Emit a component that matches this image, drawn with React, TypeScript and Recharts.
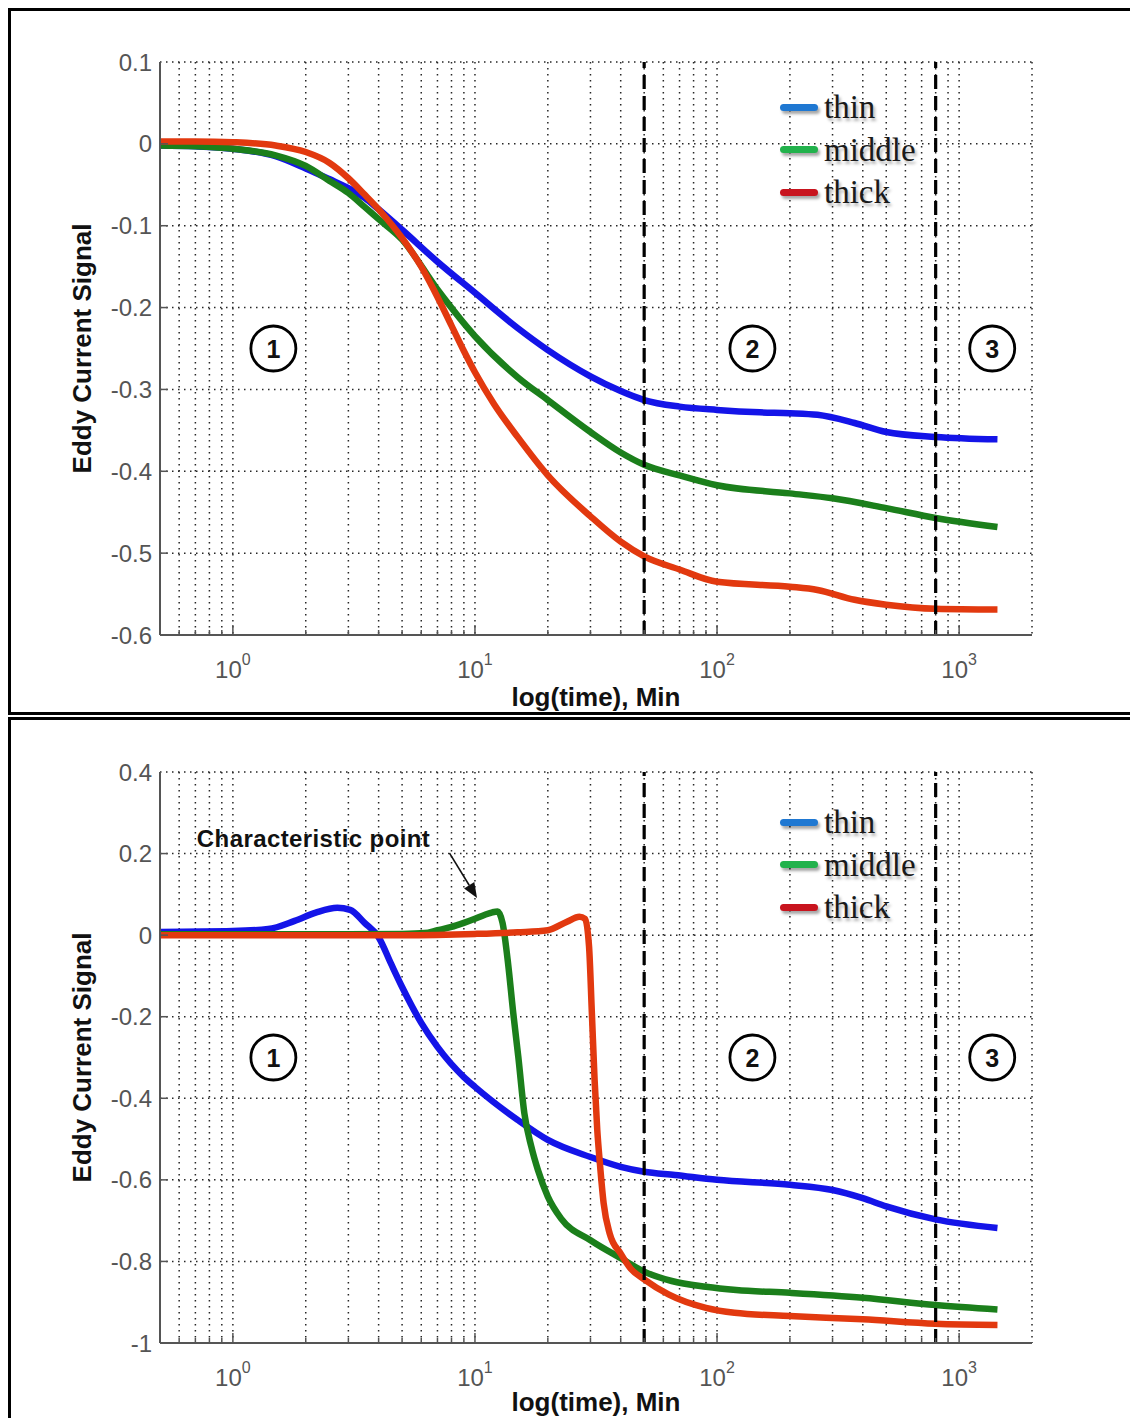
import React from 'react';
import {
  LineChart,
  Line,
  XAxis,
  YAxis,
  CartesianGrid,
  ReferenceLine,
  ReferenceDot,
  Legend,
} from 'recharts';

// ---------- shared time axis (minutes, log scale) ----------
const timeDomain: [number, number] = [0.5, 2000];
const decadeTicks = [1, 10, 100, 1000];
const decadeExponents = ['0', '1', '2', '3'];
const gridTicks = [
  0.5, 0.6, 0.7, 0.8, 0.9,
  1, 2, 3, 4, 5, 6, 7, 8, 9,
  10, 20, 30, 40, 50, 60, 70, 80, 90,
  100, 200, 300, 400, 500, 600, 700, 800, 900,
  1000, 2000,
];
const stageBoundaries = [50, 800];
const stageNames = ['1', '2', '3'];
const stageTimes = [1.47, 140, 1370];

const seriesNames = ['thin', 'middle', 'thick'];
const seriesColors = ['#1414e8', '#1b7f1b', '#e2390f'];
const keyColors = ['#1f78d2', '#22b24c', '#c8141e'];

// ---------- glass-based coatings ----------
const glassYTicks = [-0.6, -0.5, -0.4, -0.3, -0.2, -0.1, 0, 0.1];

const glassThinT = [0.5, 0.7, 1, 1.5, 2, 2.5, 3, 3.5, 4, 5, 7, 10, 15, 20, 30, 40, 50, 70, 100, 150, 200, 260, 370, 500, 800, 1440];
const glassThinV = [-0.002, -0.003, -0.006, -0.015, -0.03, -0.043, -0.054, -0.066, -0.08, -0.105, -0.144, -0.182, -0.225, -0.252, -0.284, -0.302, -0.313, -0.321, -0.325, -0.328, -0.329, -0.331, -0.341, -0.352, -0.358, -0.361];

const glassMiddleT = [0.5, 0.7, 1, 1.5, 2, 2.5, 3, 3.5, 4, 5, 7, 10, 15, 20, 30, 40, 50, 70, 100, 200, 300, 500, 800, 1440];
const glassMiddleV = [-0.002, -0.003, -0.006, -0.014, -0.027, -0.045, -0.06, -0.077, -0.092, -0.117, -0.178, -0.235, -0.285, -0.313, -0.352, -0.377, -0.392, -0.405, -0.417, -0.427, -0.433, -0.445, -0.457, -0.468];

const glassThickT = [0.5, 0.7, 1, 1.5, 2, 2.5, 3, 3.5, 4, 5, 6, 7, 8, 9, 10, 12, 15, 20, 30, 40, 50, 70, 100, 200, 260, 370, 500, 800, 1440];
const glassThickV = [0.003, 0.003, 0.002, -0.002, -0.01, -0.023, -0.042, -0.062, -0.08, -0.115, -0.15, -0.187, -0.222, -0.253, -0.279, -0.318, -0.358, -0.405, -0.455, -0.486, -0.504, -0.52, -0.535, -0.541, -0.545, -0.557, -0.563, -0.568, -0.569];

// ---------- copper-based coatings ----------
const copperYTicks = [-1, -0.8, -0.6, -0.4, -0.2, 0, 0.2, 0.4];

const copperThinT = [0.5, 1, 1.4, 1.8, 2.2, 2.7, 3.05, 3.5, 4, 4.5, 5, 6, 7, 9, 10, 15, 20, 30, 40, 50, 67, 100, 200, 300, 400, 500, 800, 1440];
const copperThinV = [0.008, 0.01, 0.015, 0.035, 0.055, 0.067, 0.062, 0.03, -0.005, -0.07, -0.127, -0.215, -0.274, -0.348, -0.372, -0.453, -0.502, -0.544, -0.568, -0.58, -0.588, -0.6, -0.612, -0.625, -0.645, -0.665, -0.697, -0.718];

const copperMiddleT = [0.5, 1, 3, 5, 6.2, 7, 8, 9, 10, 11, 11.8, 12.4, 13, 13.7, 14.4, 15.1, 16, 17.1, 18.2, 20, 22.7, 30, 40, 50, 65, 90, 120, 200, 400, 800, 1440];
const copperMiddleV = [0.002, 0.002, 0.002, 0.003, 0.005, 0.012, 0.02, 0.03, 0.04, 0.05, 0.056, 0.058, 0.03, -0.069, -0.192, -0.298, -0.437, -0.519, -0.576, -0.641, -0.695, -0.748, -0.792, -0.825, -0.848, -0.862, -0.87, -0.877, -0.889, -0.907, -0.918];

const copperThickT = [0.5, 1, 5, 10, 15, 20, 24, 27, 28.5, 29.6, 30.4, 31.2, 32, 32.8, 34, 36, 40, 44, 50, 63, 90, 118, 200, 400, 800, 1440];
const copperThickV = [0, 0, 0, 0.003, 0.007, 0.012, 0.033, 0.045, 0.04, -0.028, -0.19, -0.354, -0.477, -0.558, -0.657, -0.731, -0.781, -0.818, -0.844, -0.881, -0.914, -0.926, -0.934, -0.942, -0.953, -0.956];

// callout on the copper panel
const calloutText = 'Characteristic point';
const calloutAt = { t: 0.71, v: 0.238 };
const calloutArrow = [
  { t: 7.85, v: 0.201 },
  { t: 10.2, v: 0.091 },
];

type Pt = { t: number; v: number };
const toPoints = (t: number[], v: number[]): Pt[] => t.map((x, i) => ({ t: x, v: v[i] }));

type Series = { name: string; color: string; key: string; data: Pt[] };
const makeSeries = (pairs: [number[], number[]][]): Series[] =>
  pairs.map(([t, v], i) => ({
    name: seriesNames[i],
    color: seriesColors[i],
    key: keyColors[i],
    data: toPoints(t, v),
  }));

const glassSeries = makeSeries([
  [glassThinT, glassThinV],
  [glassMiddleT, glassMiddleV],
  [glassThickT, glassThickV],
]);
const copperSeries = makeSeries([
  [copperThinT, copperThinV],
  [copperMiddleT, copperMiddleV],
  [copperThickT, copperThickV],
]);

// ---------- styling ----------
const SANS = '"Liberation Sans", Arial, sans-serif';
const SERIF = '"Liberation Serif", "Times New Roman", serif';
const AXIS_COLOR = '#555';
const TICK_TEXT = '#555';
const PLOT_LEFT = 160;
const PLOT_RIGHT = 1032;
const CHART_W = 1130;
const PLOT_CX = (PLOT_LEFT + PLOT_RIGHT) / 2;

const isEdge = (v: number) => v === timeDomain[0] || v === timeDomain[1];

const BottomTick = (p: any) => {
  const { x, y, payload } = p;
  const v = payload.value as number;
  const idx = decadeTicks.indexOf(v);
  const len = idx >= 0 ? 10 : 5;
  return (
    <g>
      {!isEdge(v) && <line x1={x} x2={x} y1={y} y2={y - len} stroke={AXIS_COLOR} strokeWidth={1.5} />}
      {idx >= 0 && (
        <text x={x} y={y + 43} textAnchor="middle" fill={TICK_TEXT} fontFamily={SANS} fontSize={24}>
          10
          <tspan dy={-13} fontSize={16}>
            {decadeExponents[idx]}
          </tspan>
        </text>
      )}
    </g>
  );
};

const TopTick = (p: any) => {
  const { x, y, payload } = p;
  const v = payload.value as number;
  const len = decadeTicks.indexOf(v) >= 0 ? 10 : 5;
  if (isEdge(v)) return <g />;
  return <line x1={x} x2={x} y1={y} y2={y + len} stroke={AXIS_COLOR} strokeWidth={1.5} />;
};

const makeLeftTick = (domain: [number, number]) => (p: any) => {
  const { x, y, payload } = p;
  const v = payload.value as number;
  const edge = v === domain[0] || v === domain[1];
  return (
    <g>
      {!edge && <line x1={x} x2={x + 8} y1={y} y2={y} stroke={AXIS_COLOR} strokeWidth={1.5} />}
      <text x={x - 8} y={y} textAnchor="end" dominantBaseline="central" fill={TICK_TEXT} fontFamily={SANS} fontSize={24}>
        {String(v)}
      </text>
    </g>
  );
};

const makeRightTick = (domain: [number, number]) => (p: any) => {
  const { x, y, payload } = p;
  const v = payload.value as number;
  if (v === domain[0] || v === domain[1]) return <g />;
  return <line x1={x} x2={x - 8} y1={y} y2={y} stroke={AXIS_COLOR} strokeWidth={1.5} />;
};

const StageMark = (label: string) => (p: any) => {
  const { cx, cy } = p;
  return (
    <g>
      <circle cx={cx} cy={cy} r={22.5} fill="none" stroke="#000" strokeWidth={2.8} />
      <text x={cx} y={cy} textAnchor="middle" dominantBaseline="central" fontFamily={SANS} fontWeight="bold" fontSize={25} fill="#111">
        {label}
      </text>
    </g>
  );
};

const ArrowShape = (p: any) => {
  const { x1, y1, x2, y2 } = p;
  const ang = Math.atan2(y2 - y1, x2 - x1);
  const L = 15;
  const W = 6;
  const bx = x2 - L * Math.cos(ang);
  const by = y2 - L * Math.sin(ang);
  const nx = -Math.sin(ang) * W;
  const ny = Math.cos(ang) * W;
  return (
    <g>
      <line x1={x1} y1={y1} x2={bx} y2={by} stroke="#111" strokeWidth={1.6} />
      <polygon points={`${x2},${y2} ${bx + nx},${by + ny} ${bx - nx},${by - ny}`} fill="#111" />
    </g>
  );
};

const SeriesKey = ({ series }: { series: Series[] }) => (
  <div style={{ display: 'flex', flexDirection: 'column' }}>
    {series.map((s) => (
      <div key={s.name} style={{ display: 'flex', alignItems: 'center', height: 42.5 }}>
        <div
          style={{
            width: 38,
            height: 7,
            borderRadius: 4,
            background: s.key,
            boxShadow: '2px 3px 3px rgba(0,0,0,0.35)',
            marginRight: 6,
          }}
        />
        <span
          style={{
            fontFamily: SERIF,
            fontSize: 33,
            lineHeight: '42px',
            color: '#1a1a1a',
            textShadow: '2px 3px 3px rgba(0,0,0,0.3)',
          }}
        >
          {s.name}
        </span>
      </div>
    ))}
  </div>
);

type PanelProps = {
  top: number;
  height: number;
  plotTop: number;
  plotHeight: number;
  title: string;
  yDomain: [number, number];
  yTicks: number[];
  series: Series[];
  stageY: number;
  keyTop: number;
  xLabelGap: number;
  callout?: boolean;
};

function Panel(props: PanelProps) {
  const { top, height, plotTop, plotHeight, title, yDomain, yTicks, series, stageY, keyTop, xLabelGap, callout } = props;
  const bottomAxisH = height - plotTop - plotHeight;
  const plotBottom = plotTop + plotHeight;
  const plotMidY = plotTop + plotHeight / 2;
  const axisLine = { stroke: AXIS_COLOR, strokeWidth: 2 };

  return (
    <div style={{ position: 'absolute', left: 0, top, width: CHART_W, height }}>
      <LineChart width={CHART_W} height={height} margin={{ top: plotTop, right: CHART_W - PLOT_RIGHT, bottom: 0, left: 0 }}>
        <CartesianGrid stroke="#262626" strokeWidth={1.5} strokeDasharray="1.5 4.5" />
        <XAxis
          dataKey="t"
          type="number"
          scale="log"
          domain={timeDomain}
          allowDataOverflow
          ticks={gridTicks}
          interval={0}
          height={bottomAxisH}
          tickSize={0}
          tickMargin={0}
          tickLine={false}
          axisLine={axisLine}
          tick={BottomTick}
          label={() => (
            <text x={PLOT_CX} y={plotBottom + xLabelGap} textAnchor="middle" fontFamily={SANS} fontWeight="bold" fontSize={26} fill="#111">
              log(time), Min
            </text>
          )}
        />
        <XAxis
          xAxisId="top"
          orientation="top"
          type="number"
          scale="log"
          domain={timeDomain}
          allowDataOverflow
          ticks={gridTicks}
          interval={0}
          height={0}
          tickSize={0}
          tickMargin={0}
          tickLine={false}
          axisLine={axisLine}
          tick={TopTick}
          label={() => (
            <text x={PLOT_CX - 3} y={plotTop - 18} textAnchor="middle" fontFamily={SANS} fontSize={25} letterSpacing={1.4} fill="#111">
              {title}
            </text>
          )}
        />
        <YAxis
          type="number"
          domain={yDomain}
          allowDataOverflow
          ticks={yTicks}
          interval={0}
          width={PLOT_LEFT}
          tickSize={0}
          tickMargin={0}
          tickLine={false}
          axisLine={axisLine}
          tick={makeLeftTick(yDomain)}
          label={() => (
            <text
              x={82}
              y={plotMidY}
              transform={`rotate(-90, 82, ${plotMidY})`}
              textAnchor="middle"
              dominantBaseline="central"
              fontFamily={SANS}
              fontWeight="bold"
              fontSize={26}
              fill="#111"
            >
              Eddy Current Signal
            </text>
          )}
        />
        <YAxis
          yAxisId="right"
          orientation="right"
          type="number"
          domain={yDomain}
          allowDataOverflow
          ticks={yTicks}
          interval={0}
          width={0}
          tickSize={0}
          tickMargin={0}
          tickLine={false}
          axisLine={axisLine}
          tick={makeRightTick(yDomain)}
        />
        {series.map((s) => (
          <Line
            key={s.name}
            data={s.data}
            dataKey="v"
            name={s.name}
            type="monotone"
            stroke={s.color}
            strokeWidth={6.5}
            dot={false}
            activeDot={false}
            isAnimationActive={false}
          />
        ))}
        {stageBoundaries.map((t) => (
          <ReferenceLine key={t} x={t} stroke="#000" strokeWidth={3.2} strokeDasharray="14 7" />
        ))}
        {stageTimes.map((t, i) => (
          <ReferenceDot key={stageNames[i]} x={t} y={stageY} r={22} shape={StageMark(stageNames[i])} />
        ))}
        {callout && (
          <ReferenceDot
            x={calloutAt.t}
            y={calloutAt.v}
            r={1}
            shape={(p: any) => (
              <text x={p.cx} y={p.cy} textAnchor="start" dominantBaseline="central" fontFamily={SANS} fontWeight="bold" fontSize={24} letterSpacing={0.4} fill="#111">
                {calloutText}
              </text>
            )}
          />
        )}
        {callout && (
          <ReferenceLine
            segment={[
              { x: calloutArrow[0].t, y: calloutArrow[0].v },
              { x: calloutArrow[1].t, y: calloutArrow[1].v },
            ]}
            shape={ArrowShape}
          />
        )}
        <Legend
          layout="vertical"
          align="center"
          verticalAlign="middle"
          wrapperStyle={{ left: 780, top: keyTop, width: 170, height: 130 }}
          content={() => <SeriesKey series={series} />}
        />
      </LineChart>
    </div>
  );
}

export default function App() {
  return (
    <div style={{ position: 'absolute', left: 0, top: 0, width: 1130, height: 1418, overflow: 'hidden', background: '#fff' }}>
      <div style={{ position: 'absolute', left: 8, top: 8, width: 1160, height: 707, border: '3.5px solid #000', boxSizing: 'border-box' }} />
      <div style={{ position: 'absolute', left: 8, top: 717, width: 1160, height: 740, border: '3.5px solid #000', boxSizing: 'border-box' }} />
      <Panel
        top={0}
        height={712}
        plotTop={62}
        plotHeight={573}
        title="Silver coated glass-based coatings"
        yDomain={[-0.6, 0.1]}
        yTicks={glassYTicks}
        series={glassSeries}
        stageY={-0.25}
        keyTop={86}
        xLabelGap={71}
      />
      <Panel
        top={712}
        height={706}
        plotTop={60}
        plotHeight={571}
        title="Silver coated copper-based coatings"
        yDomain={[-1, 0.4]}
        yTicks={copperYTicks}
        series={copperSeries}
        stageY={-0.3}
        keyTop={89}
        xLabelGap={68}
        callout
      />
    </div>
  );
}
